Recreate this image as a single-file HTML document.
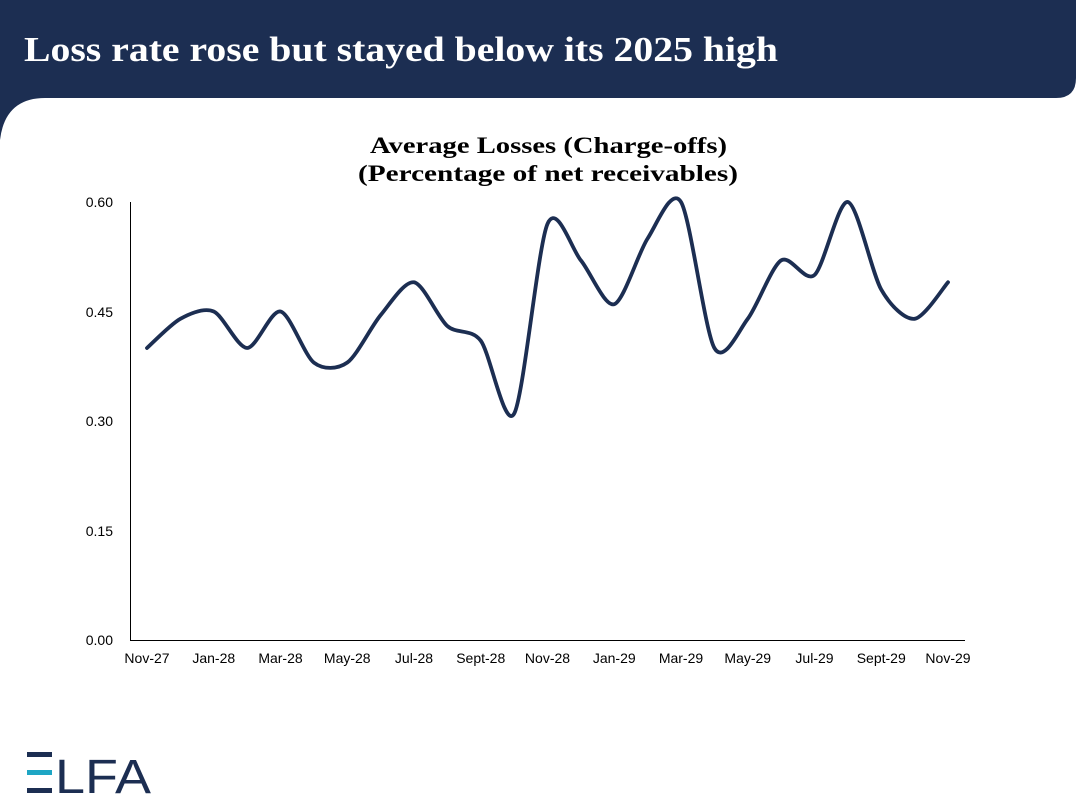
<!DOCTYPE html>
<html><head><meta charset="utf-8"><style>
html,body{margin:0;padding:0;background:#fff;}
svg{display:block;}
</style></head><body>
<svg id="s" width="1076" height="808" viewBox="0 0 1076 808" xmlns="http://www.w3.org/2000/svg">
<rect x="0" y="0" width="1076" height="808" fill="#fff"/>
<path d="M0 0 H1076 V78 Q1076 98 1056 98 H0 Z" fill="#1c2e52"/>
<path d="M0 98 H45 Q5 98 0 140 Z" fill="#1c2e52"/>
<text x="24" y="61" font-family="Liberation Serif, serif" font-weight="bold" font-size="35" fill="#fff" textLength="754" lengthAdjust="spacingAndGlyphs">Loss rate rose but stayed below its 2025 high</text>
<g font-family="Liberation Serif, serif" font-weight="bold" font-size="23" fill="#000">
<text x="370" y="153" textLength="357" lengthAdjust="spacingAndGlyphs">Average Losses (Charge-offs)</text>
<text x="358" y="181" textLength="380" lengthAdjust="spacingAndGlyphs">(Percentage of net receivables)</text>
</g>
<line x1="130.5" y1="202" x2="130.5" y2="640" stroke="#000" stroke-width="1"/>
<line x1="130" y1="640.5" x2="965" y2="640.5" stroke="#000" stroke-width="1"/>
<g font-family="Liberation Sans, sans-serif" font-size="14" fill="#000" text-anchor="end">
<text x="113" y="207">0.60</text>
<text x="113" y="317">0.45</text>
<text x="113" y="426">0.30</text>
<text x="113" y="536">0.15</text>
<text x="113" y="645">0.00</text>
</g>
<g id="xl" font-family="Liberation Sans, sans-serif" font-size="14" fill="#000" text-anchor="middle"></g>
<path id="ln" fill="none" stroke="#1c2e52" stroke-width="3.8" stroke-linejoin="round" stroke-linecap="round"/>
<g fill="#1c2e52">
<rect x="27" y="752" width="25" height="5"/>
<rect x="27" y="770" width="25" height="5" fill="#1ea6c4"/>
<rect x="27" y="788" width="25" height="5"/>
</g>
<text x="55" y="793" font-family="Liberation Sans, sans-serif" font-size="48" fill="#1c2e52" textLength="96" lengthAdjust="spacingAndGlyphs">LFA</text>
</svg>
<script>
var v=[.40,.44,.45,.40,.45,.38,.38,.445,.49,.43,.41,.31,.57,.52,.46,.55,.60,.40,.44,.52,.50,.60,.48,.44,.49];
var x0=147,dx=(948-147)/24;
function X(i){return x0+i*dx;} function Y(a){return 640-a*730;}
var p=v.map(function(a,i){return [X(i),Y(a)];});
var d="M"+p[0][0]+" "+p[0][1];
for(var i=0;i<p.length-1;i++){
 var p0=p[Math.max(0,i-1)],p1=p[i],p2=p[i+1],p3=p[Math.min(p.length-1,i+2)];
 var t=7;
 d+=" C"+(p1[0]+(p2[0]-p0[0])/t)+" "+(p1[1]+(p2[1]-p0[1])/t)+" "+(p2[0]-(p3[0]-p1[0])/t)+" "+(p2[1]-(p3[1]-p1[1])/t)+" "+p2[0]+" "+p2[1];
}
document.getElementById("ln").setAttribute("d",d);
var labs=["Nov-27","Jan-28","Mar-28","May-28","Jul-28","Sept-28","Nov-28","Jan-29","Mar-29","May-29","Jul-29","Sept-29","Nov-29"];
var g=document.getElementById("xl"),h="";
labs.forEach(function(l,k){h+='<text x="'+X(2*k)+'" y="663">'+l+'</text>';});
g.innerHTML=h;
</script>
</body></html>
